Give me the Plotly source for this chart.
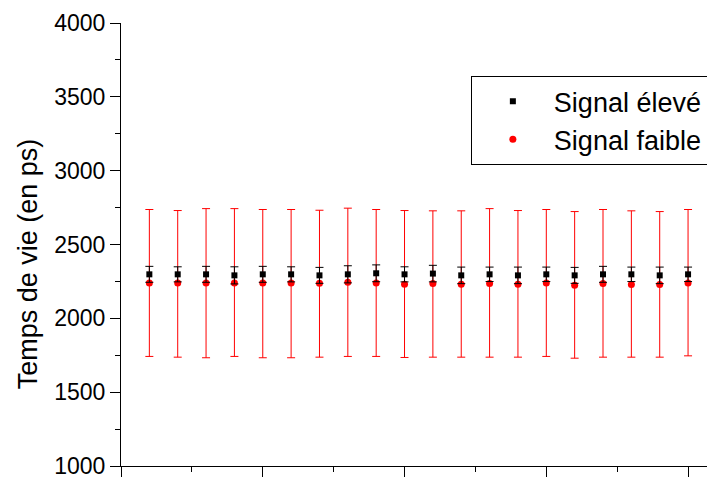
import plotly.graph_objects as go

# ---- data ----
mesures = list(range(1, 21))

signal_eleve = [2298, 2298, 2298, 2291, 2298, 2298, 2291, 2298, 2305, 2298,
                2303, 2291, 2298, 2291, 2298, 2291, 2298, 2298, 2291, 2298]
signal_eleve_err = [54, 51, 54, 58, 54, 51, 54, 58, 57, 51,
                    56, 56, 49, 56, 49, 54, 54, 49, 56, 49]

signal_faible = [2240, 2240, 2240, 2240, 2240, 2240, 2238, 2245, 2240, 2231,
                 2236, 2231, 2236, 2231, 2240, 2224, 2236, 2229, 2229, 2240]
signal_faible_err_plus = [497, 490, 503, 503, 497, 497, 494, 501, 497, 499,
                          492, 497, 507, 499, 497, 499, 501, 499, 494, 497]
signal_faible_err_minus = [498, 503, 507, 498, 507, 507, 501, 503, 498, 496,
                           499, 494, 499, 494, 498, 494, 499, 492, 492, 494]

y_ticks = [1000, 1500, 2000, 2500, 3000, 3500, 4000]
x_ticks = [0, 5, 10, 15, 20]

FONT = "Liberation Sans, Arial, sans-serif"

fig = go.Figure()

fig.add_trace(go.Scatter(
    x=mesures, y=signal_faible, mode="markers", name="Signal faible",
    legendrank=2,
    marker=dict(symbol="circle", size=7, color="#ff0000"),
    error_y=dict(type="data", symmetric=False,
                 array=signal_faible_err_plus,
                 arrayminus=signal_faible_err_minus,
                 color="#ff0000", thickness=1, width=4),
))

fig.add_trace(go.Scatter(
    x=mesures, y=signal_eleve, mode="markers", name="Signal élevé",
    legendrank=1,
    marker=dict(symbol="square", size=6, color="#000000"),
    error_y=dict(type="data", array=signal_eleve_err,
                 color="#000000", thickness=1, width=4),
))

# the page body has an 8px margin: the figure is sized/offset to compensate
fig.update_layout(
    width=707, height=471,
    margin=dict(l=113, r=0, t=15, b=11),
    paper_bgcolor="white", plot_bgcolor="white",
    font=dict(family=FONT, color="black"),
    showlegend=True,
    legend=dict(
        x=0.589, y=0.88, xanchor="left", yanchor="top",
        bordercolor="black", borderwidth=1, bgcolor="white",
        font=dict(size=27, family=FONT),
        itemwidth=72,
    ),
    xaxis=dict(
        range=[0, 20.95], showgrid=False, zeroline=False,
        showline=True, linecolor="black", linewidth=1,
        tickmode="array", tickvals=x_ticks, showticklabels=False,
        ticks="outside", ticklen=10, tickwidth=1, tickcolor="black",
        minor=dict(tickmode="linear", tick0=2.5, dtick=5, ticks="outside",
                   ticklen=5, tickwidth=1, tickcolor="black"),
    ),
    yaxis=dict(
        range=[1000, 4000], showgrid=False, zeroline=False,
        showline=True, linecolor="black", linewidth=1,
        tickmode="array", tickvals=y_ticks,
        ticktext=[str(v) for v in y_ticks],
        ticklabeloverflow="allow",
        ticks="outside", ticklen=10, tickwidth=1, tickcolor="black",
        tickfont=dict(size=23, family=FONT),
        minor=dict(tickmode="linear", tick0=1250, dtick=500, ticks="outside",
                   ticklen=5, tickwidth=1, tickcolor="black"),
    ),
    annotations=[dict(
        text="Temps de vie (en ps)", textangle=-90,
        xref="paper", yref="paper", x=-0.157, y=0.457,
        xanchor="center", yanchor="middle", showarrow=False,
        font=dict(size=27, family=FONT),
    )],
)

fig.write_html("out.html")
